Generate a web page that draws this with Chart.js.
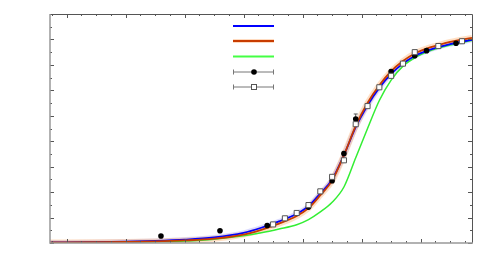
<!DOCTYPE html>
<html>
<head>
<meta charset="utf-8">
<script src="https://cdn.jsdelivr.net/npm/chart.js@4"></script>
<style>
  html, body { margin: 0; padding: 0; background: #fff; }
  canvas { display: block; }
</style>
</head>
<body>
<canvas id="chart" width="500" height="279"></canvas>
<script>
// curve samples
const curveX  = [-0.28, 0.5, 1.0, 1.5, 2.0, 2.5, 3.0, 3.3, 3.6, 3.9, 4.1, 4.3, 4.5, 4.7, 4.9, 5.1, 5.3, 5.5, 5.7, 5.9, 6.1, 6.3, 6.5, 6.87]
const blueY   = [0.02, 0.03, 0.05, 0.08, 0.13, 0.22, 0.4, 0.6, 0.85, 1.15, 1.45, 1.95, 2.5, 3.45, 4.55, 5.4, 6.1, 6.65, 7.05, 7.35, 7.55, 7.7, 7.82, 7.98]
const orangeY = [0.02, 0.03, 0.04, 0.06, 0.1, 0.17, 0.33, 0.52, 0.76, 1.06, 1.37, 1.88, 2.45, 3.45, 4.6, 5.5, 6.2, 6.75, 7.15, 7.45, 7.64, 7.78, 7.9, 8.06]
const greenY  = [0.01, 0.02, 0.03, 0.05, 0.08, 0.15, 0.28, 0.4, 0.55, 0.72, 0.92, 1.22, 1.6, 2.2, 3.35, 4.5, 5.6, 6.4, 6.95, 7.28, 7.5, 7.66, 7.78, 7.96]

// open squares
const sqX = [3.5, 3.7, 3.9, 4.1, 4.3, 4.5, 4.7, 4.9, 5.1, 5.3, 5.5, 5.7, 5.9, 6.3, 6.7]
const sqY = [0.73, 0.97, 1.18, 1.49, 2.03, 2.6, 3.25, 4.67, 5.38, 6.12, 6.57, 7.05, 7.5, 7.74, 7.93]

// filled dots with error
const dotX   = [1.6, 2.6, 3.4, 4.1, 4.5, 4.7, 4.9, 5.5, 5.9, 6.1, 6.6]
const dotY   = [0.275, 0.48, 0.69, 1.41, 2.45, 3.52, 4.87, 6.74, 7.36, 7.56, 7.85]
const dotErr = [0.05, 0.05, 0.05, 0.05, 0.08, 0.08, 0.2, 0.08, 0.06, 0.05, 0.05]

// axis ticks
const xMajor = [0, 1, 2, 3, 4, 5, 6]
const xMinor = [-0.25, 0.25, 0.5, 0.75, 1.25, 1.5, 1.75, 2.25, 2.5, 2.75, 3.25, 3.5, 3.75, 4.25, 4.5, 4.75, 5.25, 5.5, 5.75, 6.25, 6.5, 6.75]
const yMajor = [0, 1, 2, 3, 4, 5, 6, 7, 8, 9]
const yMinor = [0.5, 1.5, 2.5, 3.5, 4.5, 5.5, 6.5, 7.5, 8.5]

const pts = (xs, ys) => xs.map((x, i) => ({ x: x, y: ys[i] }))

// frame + inward ticks + error bars + legend
const decor = {
  id: 'decor',
  beforeDatasetsDraw(chart) {
    const ctx = chart.ctx
    const sx = chart.scales.x, sy = chart.scales.y
    ctx.save()
    ctx.strokeStyle = '#555'
    ctx.lineWidth = 1
    dotX.forEach((x, i) => {
      const px = sx.getPixelForValue(x)
      const y1 = sy.getPixelForValue(dotY[i] + dotErr[i])
      const y2 = sy.getPixelForValue(dotY[i] - dotErr[i])
      ctx.beginPath()
      ctx.moveTo(px, y1); ctx.lineTo(px, y2)
      ctx.moveTo(px - 2, y1); ctx.lineTo(px + 2, y1)
      ctx.moveTo(px - 2, y2); ctx.lineTo(px + 2, y2)
      ctx.stroke()
    })
    ctx.restore()
  },
  afterDraw(chart) {
    const ctx = chart.ctx
    const a = chart.chartArea
    const sx = chart.scales.x, sy = chart.scales.y
    ctx.save()

    // ticks
    ctx.strokeStyle = '#555'
    ctx.lineWidth = 1
    const tickX = (v, len) => {
      const px = Math.round(sx.getPixelForValue(v)) + 0.5
      ctx.beginPath()
      ctx.moveTo(px, a.bottom); ctx.lineTo(px, a.bottom - len)
      ctx.moveTo(px, a.top); ctx.lineTo(px, a.top + len)
      ctx.stroke()
    }
    const tickY = (v, len) => {
      const py = Math.round(sy.getPixelForValue(v)) + 0.5
      ctx.beginPath()
      ctx.moveTo(a.left, py); ctx.lineTo(a.left + len, py)
      ctx.moveTo(a.right, py); ctx.lineTo(a.right - len, py)
      ctx.stroke()
    }
    xMajor.forEach(v => tickX(v, 4))
    xMinor.forEach(v => tickX(v, 2))
    yMajor.forEach(v => tickY(v, 4))
    yMinor.forEach(v => tickY(v, 2))

    // frame
    ctx.strokeStyle = '#555'
    ctx.lineWidth = 1
    ctx.beginPath()
    ctx.moveTo(a.left, a.top + 0.5); ctx.lineTo(a.right + 0.5, a.top + 0.5)
    ctx.lineTo(a.right + 0.5, a.bottom)
    ctx.stroke()
    ctx.strokeStyle = '#999'
    ctx.lineWidth = 1.5
    ctx.beginPath()
    ctx.moveTo(a.left, a.top); ctx.lineTo(a.left, a.bottom)
    ctx.lineTo(a.right + 1, a.bottom)
    ctx.stroke()

    // legend (no labels)
    const lx1 = 233, lx2 = 274, lxm = 254
    const rows = [26, 41, 56.5, 72, 87]
    ctx.lineWidth = 2
    ctx.strokeStyle = '#0000ff'
    ctx.beginPath(); ctx.moveTo(lx1, rows[0]); ctx.lineTo(lx2, rows[0]); ctx.stroke()
    ctx.strokeStyle = 'rgba(255,160,90,0.5)'
    ctx.lineWidth = 3.5
    ctx.beginPath(); ctx.moveTo(lx1, rows[1]); ctx.lineTo(lx2, rows[1]); ctx.stroke()
    ctx.strokeStyle = '#c83c00'
    ctx.lineWidth = 1.8
    ctx.beginPath(); ctx.moveTo(lx1, rows[1]); ctx.lineTo(lx2, rows[1]); ctx.stroke()
    ctx.strokeStyle = '#44ff44'
    ctx.lineWidth = 2
    ctx.beginPath(); ctx.moveTo(lx1, rows[2]); ctx.lineTo(lx2, rows[2]); ctx.stroke()
    ctx.lineWidth = 1
    ctx.strokeStyle = '#777'
    ;[rows[3], rows[4]].forEach(r => {
      ctx.beginPath()
      ctx.moveTo(lx1, r); ctx.lineTo(lx2, r)
      ctx.moveTo(lx1 + 0.5, r - 2.5); ctx.lineTo(lx1 + 0.5, r + 2.5)
      ctx.moveTo(lx2 - 0.5, r - 2.5); ctx.lineTo(lx2 - 0.5, r + 2.5)
      ctx.stroke()
    })
    ctx.fillStyle = '#000'
    ctx.beginPath(); ctx.arc(lxm, rows[3], 2.8, 0, Math.PI * 2); ctx.fill()
    ctx.fillStyle = '#fff'
    ctx.strokeStyle = '#555'
    ctx.fillRect(lxm - 2.5, rows[4] - 2.5, 5, 5)
    ctx.strokeRect(lxm - 2.5, rows[4] - 2.5, 5, 5)

    ctx.restore()
  }
}

const curve = (data, color, width) => ({
  data: data,
  showLine: true,
  borderColor: color,
  borderWidth: width,
  pointRadius: 0,
  fill: false,
  cubicInterpolationMode: 'monotone'
})

new Chart(document.getElementById('chart'), {
  type: 'scatter',
  data: {
    datasets: [
      {
        data: pts(sqX, sqY),
        pointStyle: 'rect',
        pointRadius: 3.6,
        backgroundColor: '#fff',
        borderColor: '#555',
        borderWidth: 1
      },
      {
        data: pts(dotX, dotY),
        pointStyle: 'circle',
        pointRadius: 2.8,
        backgroundColor: '#000',
        borderColor: '#000',
        borderWidth: 0
      },
      curve(pts(curveX, orangeY), '#c83c00', 1.8),
      curve(pts(curveX, blueY), '#0000ff', 1.8),
      curve(pts(curveX, greenY), '#33ee33', 1.5),
      curve(pts(curveX, orangeY), 'rgba(255,165,90,0.35)', 6),
      curve(pts(curveX, blueY), 'rgba(140,140,255,0.3)', 5)
    ]
  },
  options: {
    responsive: false,
    animation: false,
    layout: { padding: { left: 50, right: 28, top: 14, bottom: 36 } },
    plugins: { legend: { display: false }, tooltip: { enabled: false } },
    scales: {
      x: { type: 'linear', min: -0.28, max: 6.87, display: false },
      y: { type: 'linear', min: 0, max: 9, display: false }
    }
  },
  plugins: [decor]
});
</script>
</body>
</html>
